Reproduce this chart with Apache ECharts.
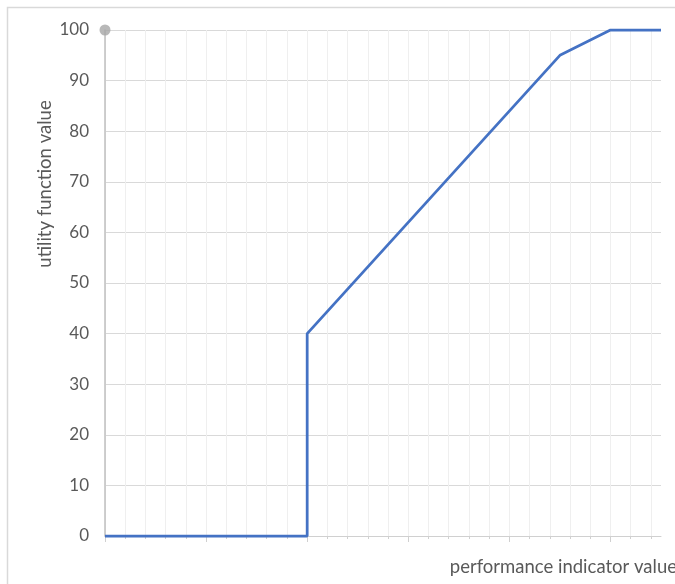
<!DOCTYPE html>
<html>
<head>
<meta charset="utf-8">
<script src="https://cdn.jsdelivr.net/npm/echarts@6/dist/echarts.min.js"></script>
<style>
html,body{margin:0;padding:0;background:#fff;}
#chart{width:675px;height:584px;}
</style>
</head>
<body>
<div id="chart"></div>
<script>
// Data
const xValues = [0, 10, 10, 22.5, 25, 27.5];
const utilityValues = [0, 0, 40, 95, 100, 100];
const yAxisEndMarker = [[0, 100]];
const yTickLabels = [0, 10, 20, 30, 40, 50, 60, 70, 80, 90, 100];
const xMinorTicks = [0,1,2,3,4,5,6,7,8,9,10,11,12,13,14,15,16,17,18,19,20,21,22,23,24,25,26,27];
const xMajorTicks = [0, 5, 10, 15, 20, 25];
const xAxisTitle = 'performance indicator value';
const yAxisTitle = 'utility function value';

const FONT = 'Lato, "Liberation Sans", sans-serif';
const chart = echarts.init(document.getElementById('chart'), null, {renderer: 'canvas'});

chart.setOption({
  animation: false,
  backgroundColor: '#ffffff',
  grid: {left: 105, top: 30, right: 14, bottom: 48, containLabel: false},
  xAxis: [{
    type: 'value', min: 0, max: 27.5, interval: 1,
    axisLine: {show: true, onZero: false, lineStyle: {color: '#d0d0d0', width: 1}},
    axisTick: {show: true, length: 3, customValues: xMinorTicks, lineStyle: {color: '#d0d0d0'}},
    axisLabel: {show: false},
    splitLine: {show: true, lineStyle: {color: '#efefef', width: 1}}
  }, {
    type: 'value', min: 0, max: 27.5, interval: 5, position: 'bottom',
    axisLine: {show: false},
    axisTick: {show: true, length: 6, customValues: xMajorTicks, lineStyle: {color: '#d0d0d0'}},
    axisLabel: {show: false},
    splitLine: {show: false}
  }],
  yAxis: {
    type: 'value', min: 0, max: 100, interval: 10,
    axisLine: {show: true, lineStyle: {color: '#bfbfbf', width: 1.5}},
    axisTick: {show: false},
    axisLabel: {
      color: '#595959', fontSize: 17, fontFamily: FONT, margin: 16,
      customValues: yTickLabels
    },
    splitLine: {show: true, lineStyle: {color: '#d9d9d9', width: 1}}
  },
  series: [{
    type: 'line',
    data: xValues.map((x, i) => [x, utilityValues[i]]),
    showSymbol: false,
    lineStyle: {color: '#4472c4', width: 2.75},
    itemStyle: {color: '#4472c4'},
    clip: false,
    z: 3
  }, {
    type: 'scatter',
    data: yAxisEndMarker,
    symbol: 'circle',
    symbolSize: 11,
    itemStyle: {color: '#a6a6a6'},
    z: 4
  }],
  graphic: [{
    type: 'rect',
    shape: {x: 7.5, y: 7.5, width: 700, height: 620},
    style: {fill: 'none', stroke: '#d9d9d9', lineWidth: 1.5},
    silent: true, z: -1
  }, {
    type: 'text',
    x: 677, y: 567,
    style: {text: xAxisTitle, fill: '#595959', font: '18.5px ' + FONT, align: 'right', verticalAlign: 'middle'}
  }, {
    type: 'text',
    x: 45, y: 184,
    rotation: Math.PI / 2,
    style: {text: yAxisTitle, fill: '#595959', font: '18.5px ' + FONT, align: 'center', verticalAlign: 'middle'}
  }]
});
</script>
</body>
</html>
